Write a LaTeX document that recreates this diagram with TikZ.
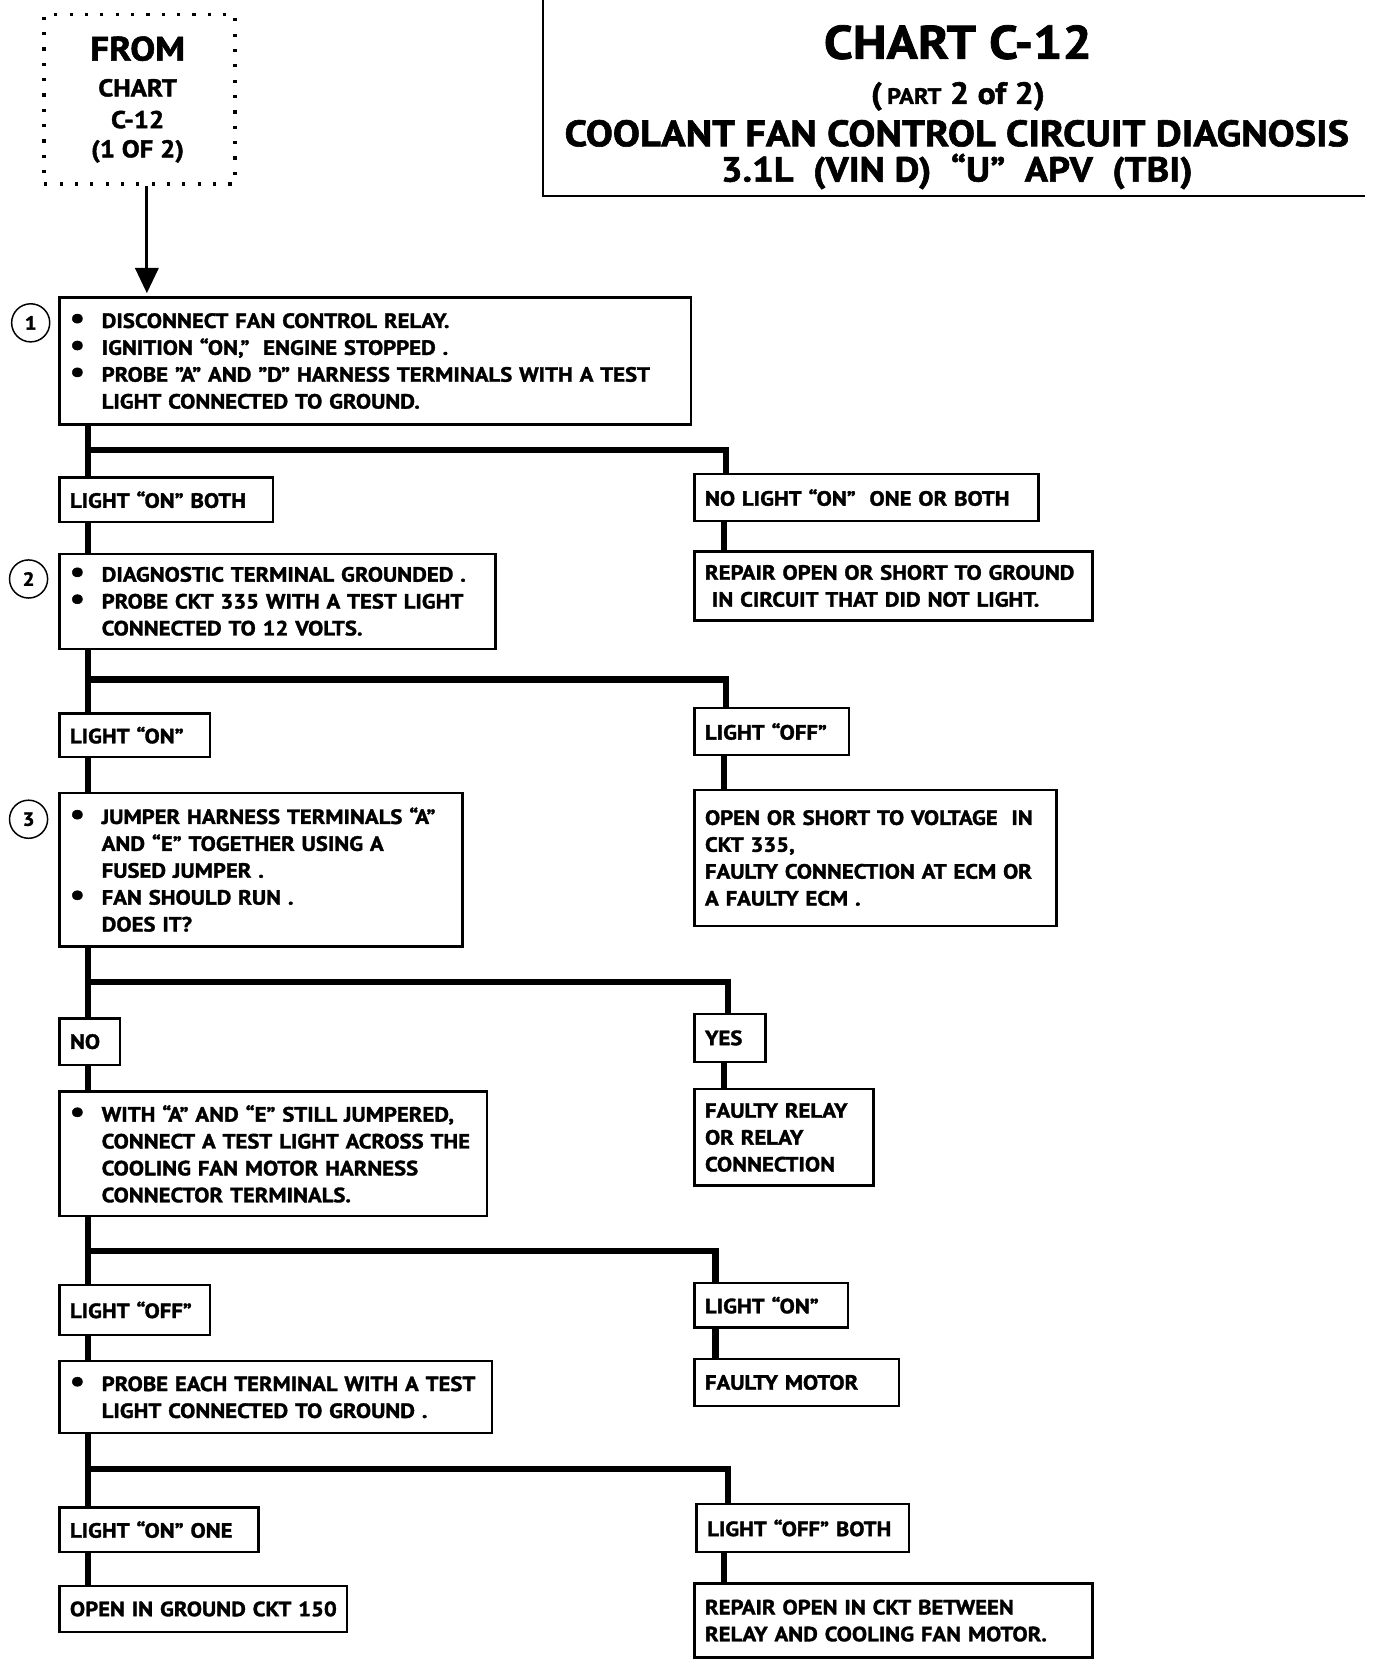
\documentclass[tikz,border=0pt]{standalone}
\usepackage{fontspec}
\setmainfont{PT Sans}[FakeStretch=1.1, BoldFeatures={FakeBold=1.6}]
\usetikzlibrary{arrows.meta,calc}
\newcommand{\bl}{\makebox[30pt][l]{\raisebox{0pt}{\scalebox{1.45}{•}}}}
\newcommand{\ind}{\hspace*{30pt}}
\tikzset{
  box/.style={draw, line width=2.2pt, rectangle, anchor=north west, inner xsep=10pt, inner ysep=0pt,
    align=left, font=\fontsize{19.5}{25.4}\selectfont\bfseries},
  conn/.style={line width=6pt},
  num/.style={draw, circle, line width=1.4pt, minimum size=36pt, inner sep=0pt, font=\fontsize{18}{20}\selectfont\bfseries},
  ttl/.style={inner sep=0pt}
}
\newcommand{\bx}[6]{\node[box, minimum width=#4pt, minimum height=#5pt, text width={#4pt-20pt}] (#1) at (#2,#3) {#6};}
\begin{document}
\begin{tikzpicture}[x=1pt,y=-1pt]
\useasboundingbox (0,0) rectangle (1300,1574);
% from box
\node[draw, line width=3.5pt, dash pattern=on 3pt off 11.5pt, minimum width=180pt, minimum height=160pt, anchor=north west, inner sep=0pt] (from) at (40,12) {};
\node[ttl, font=\fontsize{32}{32}\selectfont\bfseries] (f1) at (130,46) {FROM};
\node[ttl, font=\fontsize{23}{23}\selectfont\bfseries] (f2) at (130,83) {CHART};
\node[ttl, font=\fontsize{23}{23}\selectfont\bfseries] (f3) at (130,113) {C-12};
\node[ttl, font=\fontsize{23}{23}\selectfont\bfseries] (f4) at (130,143) {(1 OF 2)};
% title
\draw[line width=2pt] (513,0) -- (513,185) -- (1290,185);
\node[ttl, font=\fontsize{44.5}{44}\selectfont\bfseries] (t1) at (905,40) {CHART C-12};
\node[ttl, font=\fontsize{29}{28}\selectfont\bfseries] (t2) at (905,91) {(\,{\fontsize{21}{21}\selectfont PART} 2 of 2)};
\node[ttl, font=\fontsize{34.7}{34}\selectfont\bfseries] (t3) at (904,126) {COOLANT FAN CONTROL CIRCUIT DIAGNOSIS};
\node[ttl, font=\fontsize{33}{33}\selectfont\bfseries] (t4) at (904,162) {3.1L\ \ (VIN D)\ \ “U”\ \ APV\ \ (TBI)};
% boxes
\bx{b1}{55}{280}{597}{120}{\bl DISCONNECT FAN CONTROL RELAY.\\\bl IGNITION “ON,”\ \ ENGINE STOPPED .\\\bl PROBE "A" AND "D" HARNESS TERMINALS WITH A TEST\\\ind LIGHT CONNECTED TO GROUND.}
\bx{l1}{55}{450}{202}{42}{LIGHT “ON” BOTH}
\bx{r1}{655}{447}{325}{44}{NO LIGHT “ON”\ \ ONE OR BOTH}
\bx{r1b}{655}{520}{376}{65}{REPAIR OPEN OR SHORT TO GROUND\\\ IN CIRCUIT THAT DID NOT LIGHT.}
\bx{b2}{55}{522}{412}{90}{\bl DIAGNOSTIC TERMINAL GROUNDED .\\\bl PROBE CKT 335 WITH A TEST LIGHT\\\ind CONNECTED TO 12 VOLTS.}
\bx{l2}{55}{673}{142}{41}{LIGHT “ON”}
\bx{r2}{655}{668}{146}{44}{LIGHT “OFF”}
\bx{r2b}{655}{745}{342}{129}{OPEN OR SHORT TO VOLTAGE\ \ IN\\CKT 335,\\FAULTY CONNECTION AT ECM OR\\A FAULTY ECM .}
\bx{b3}{55}{748}{381}{145}{\bl JUMPER HARNESS TERMINALS “A”\\\ind AND “E” TOGETHER USING A\\\ind FUSED JUMPER .\\\bl FAN SHOULD RUN .\\\ind DOES IT?}
\bx{l3}{55}{961}{57}{44}{NO}
\bx{r3}{655}{957}{67}{45}{YES}
\bx{r3b}{655}{1028}{169}{91}{FAULTY RELAY\\OR RELAY\\CONNECTION}
\bx{b4}{55}{1030}{404}{118}{\bl WITH “A” AND “E” STILL JUMPERED,\\\ind CONNECT A TEST LIGHT ACROSS THE\\\ind COOLING FAN MOTOR HARNESS\\\ind CONNECTOR TERMINALS.}
\bx{l4}{55}{1213}{142}{47}{LIGHT “OFF”}
\bx{r4}{655}{1211}{145}{42}{LIGHT “ON”}
\bx{b5}{55}{1285}{409}{68}{\bl PROBE EACH TERMINAL WITH A TEST\\\ind LIGHT CONNECTED TO GROUND .}
\bx{r4b}{655}{1283}{193}{44}{FAULTY MOTOR}
\bx{l5}{55}{1423}{188}{42}{LIGHT “ON” ONE}
\bx{r5}{657}{1420}{201}{45}{LIGHT “OFF” BOTH}
\bx{l5b}{55}{1497}{272}{44}{\mbox{OPEN IN GROUND CKT 150}}
\bx{r5b}{655}{1495}{376}{70}{REPAIR OPEN IN CKT BETWEEN\\RELAY AND COOLING FAN MOTOR.}
% step numbers
\node[num] (n1) at (29,305) {1};
\node[num] (n2) at (27,547) {2};
\node[num] (n3) at (27,774) {3};
% arrow
\draw[line width=3pt, -{Triangle[length=24pt,width=22pt]}, shorten >=3pt] ([xshift=7pt]from.south) -- ([xshift=7pt]from.south |- b1.north);
% junctions
\coordinate (j1) at (83,425);
\coordinate (j2) at (83,642);
\coordinate (j3) at (83,928);
\coordinate (j4) at (83,1182);
\coordinate (j5) at (83,1388);
% trunk
\foreach \a/\b in {b1/l1,l1/b2,b2/l2,l2/b3,b3/l3,l3/b4,b4/l4,l4/b5,b5/l5,l5/l5b}
  \draw[conn] ([xshift=28pt]\a.south west) -- ([xshift=28pt]\b.north west);
% branches
\draw[conn] (j1) -| ([xshift=31pt]r1.north west);
\draw[conn] (j2) -| ([xshift=31pt]r2.north west);
\draw[conn] (j3) -| ([xshift=33pt]r3.north west);
\draw[conn] (j4) -| ([xshift=21pt]r4.north west);
\draw[conn] (j5) -| ([xshift=31pt]r5.north west);
% right stubs
\draw[conn] ([xshift=29pt]r1.south west) -- ([xshift=29pt]r1b.north west);
\draw[conn] ([xshift=29pt]r2.south west) -- ([xshift=29pt]r2b.north west);
\draw[conn] ([xshift=29pt]r3.south west) -- ([xshift=29pt]r3b.north west);
\draw[conn] ([xshift=21pt]r4.south west) -- ([xshift=21pt]r4b.north west);
\draw[conn] ([xshift=27pt]r5.south west) -- ([xshift=27pt]r5.south west |- r5b.north);
\end{tikzpicture}
\end{document}
